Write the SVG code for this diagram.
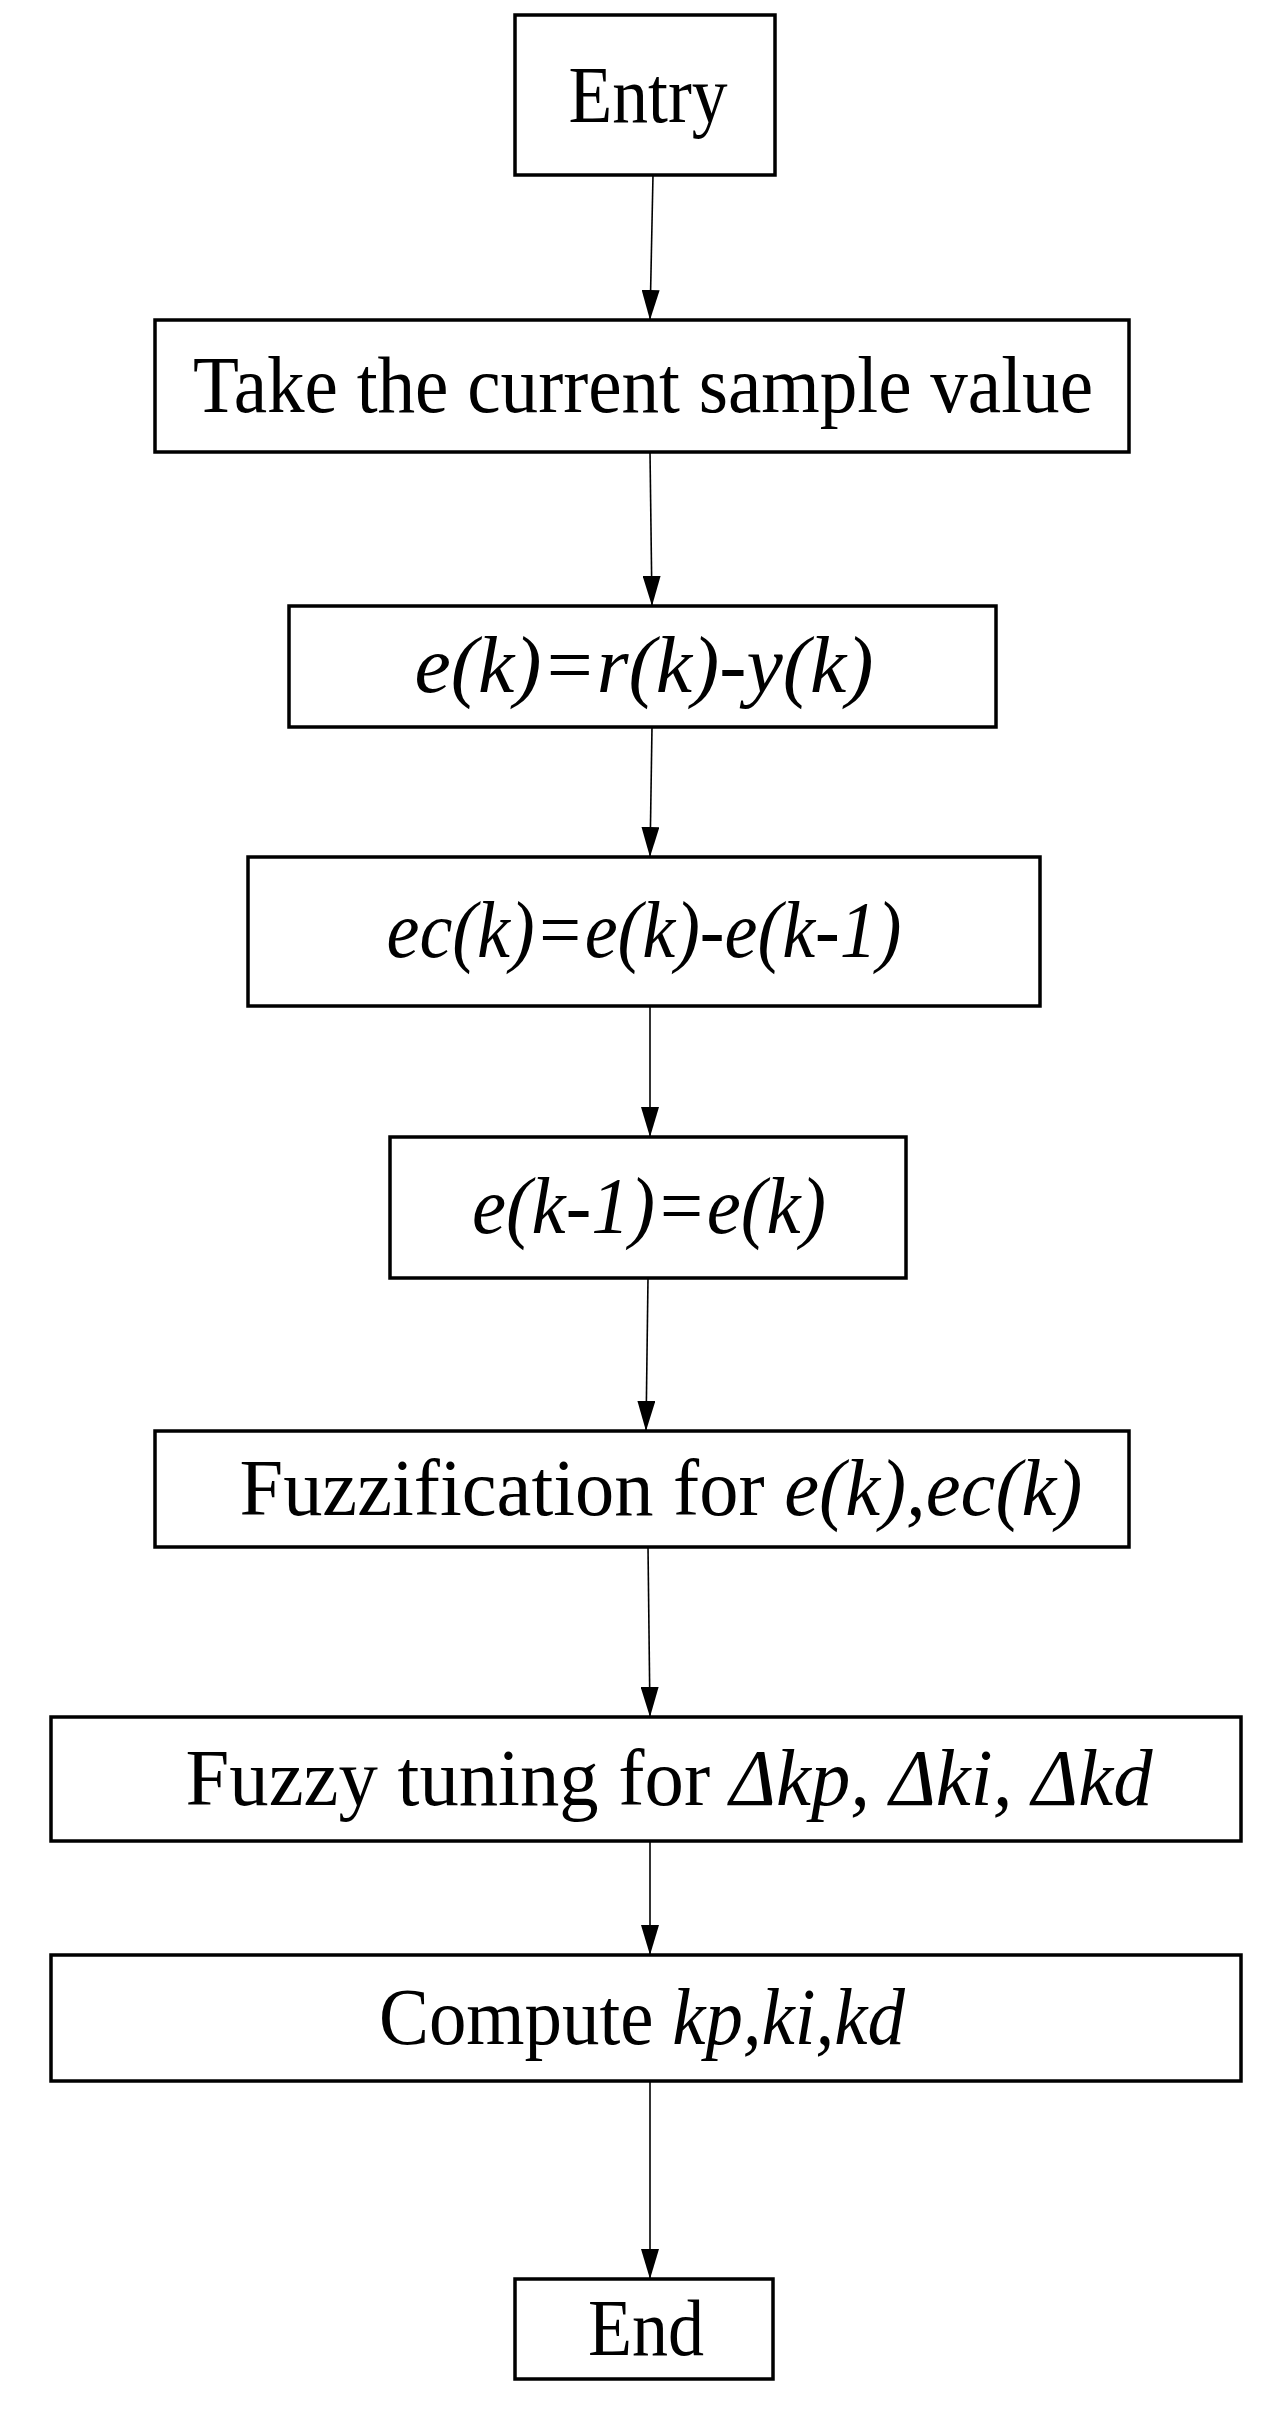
<svg xmlns="http://www.w3.org/2000/svg" width="1284" height="2419" viewBox="0 0 1284 2419">
<style>
rect{fill:#fff;stroke:#000;stroke-width:3.5}
text{font-family:"Liberation Serif","Times New Roman",serif;font-size:80px;fill:#000;text-anchor:middle}
.i{font-style:italic}
line{stroke:#000;stroke-width:1.6}
</style>
<defs><marker id="a" markerWidth="30" markerHeight="18" refX="30" refY="9" orient="auto" markerUnits="userSpaceOnUse" viewBox="0 0 30 18"><path d="M0,0L30,9L0,18Z" fill="#000"/></marker></defs>
<rect width="1284" height="2419" style="stroke:none"/>
<g id="connectors">
<line x1="653" y1="175" x2="650" y2="320" marker-end="url(#a)"/>
<line x1="650" y1="452" x2="652" y2="606" marker-end="url(#a)"/>
<line x1="652" y1="727" x2="650" y2="857" marker-end="url(#a)"/>
<line x1="650" y1="1006" x2="650" y2="1137" marker-end="url(#a)"/>
<line x1="648" y1="1278" x2="646" y2="1431" marker-end="url(#a)"/>
<line x1="648" y1="1547" x2="650" y2="1717" marker-end="url(#a)"/>
<line x1="650" y1="1841" x2="650" y2="1955" marker-end="url(#a)"/>
<line x1="650" y1="2081" x2="650" y2="2279" marker-end="url(#a)"/>
</g>
<g id="entry"><rect x="515" y="15" width="260" height="160"/><text x="648" y="122" textLength="159" lengthAdjust="spacingAndGlyphs">Entry</text></g>
<g id="sample"><rect x="155" y="320" width="974" height="132"/><text x="643" y="412" textLength="900" lengthAdjust="spacingAndGlyphs">Take the current sample value</text></g>
<g id="error"><rect x="289" y="606" width="707" height="121"/><text class="i" x="644" y="692" textLength="459" lengthAdjust="spacingAndGlyphs">e(k)=r(k)-y(k)</text></g>
<g id="ec"><rect x="248" y="857" width="792" height="149"/><text class="i" x="644" y="957" textLength="515" lengthAdjust="spacingAndGlyphs">ec(k)=e(k)-e(k-1)</text></g>
<g id="update"><rect x="390" y="1137" width="516" height="141"/><text class="i" x="649" y="1233" textLength="354" lengthAdjust="spacingAndGlyphs">e(k-1)=e(k)</text></g>
<g id="fuzz"><rect x="155" y="1431" width="974" height="116"/><text x="661" y="1515" textLength="843" lengthAdjust="spacingAndGlyphs">Fuzzification for <tspan class="i">e(k),ec(k)</tspan></text></g>
<g id="tuning"><rect x="51" y="1717" width="1190" height="124"/><text x="669" y="1805" textLength="967" lengthAdjust="spacingAndGlyphs">Fuzzy tuning for <tspan class="i">Δkp, Δki, Δkd</tspan></text></g>
<g id="compute"><rect x="51" y="1955" width="1190" height="126"/><text x="642" y="2044" textLength="526" lengthAdjust="spacingAndGlyphs">Compute <tspan class="i">kp,ki,kd</tspan></text></g>
<g id="end"><rect x="515" y="2279" width="258" height="100"/><text x="646" y="2355" textLength="116" lengthAdjust="spacingAndGlyphs">End</text></g>
</svg>
